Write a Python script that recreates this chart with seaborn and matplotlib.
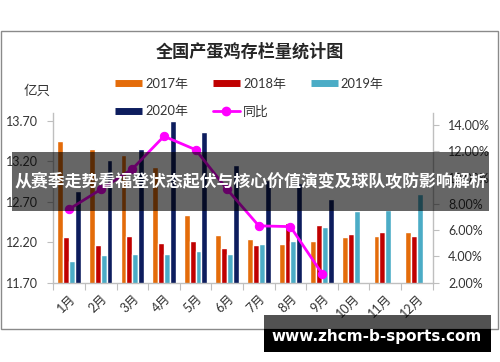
import numpy as np
import pandas as pd
import matplotlib
matplotlib.use("Agg")
import matplotlib.pyplot as plt
import seaborn as sns
from matplotlib.patches import Rectangle
from matplotlib.lines import Line2D

months = ['1月', '2月', '3月', '4月', '5月', '6月', '7月', '8月', '9月', '10月', '11月', '12月']
years = ['2017年', '2018年', '2019年', '2020年']
y2017 = [13.45, 13.35, 13.27, 13.13, 12.53, 12.29, 12.24, 12.18, 12.21, 12.26, 12.27, 12.32]
y2018 = [12.26, 12.17, 12.28, 12.19, 12.21, 12.13, 12.17, 12.44, 12.41, 12.30, 12.33, 12.27]
y2019 = [11.97, 12.04, 12.05, 12.06, 12.09, 12.06, 12.18, 12.22, 12.39, 12.59, 12.60, 12.80]
y2020 = [12.83, 13.21, 13.35, 13.70, 13.56, 13.15, 12.97, 12.93, 12.73, np.nan, np.nan, np.nan]
yoy = [7.60, 9.10, 10.66, 13.15, 12.13, 9.10, 6.33, 6.27, 2.69, np.nan, np.nan, np.nan]
left_ticks = [11.70, 12.20, 12.70, 13.20, 13.70]
right_ticks = [2, 4, 6, 8, 10, 12, 14]

colors = ['#E46C0A', '#C00000', '#4BACC6', '#0D1D5E']
yoy_color = '#FF00FF'

sns.set_theme(style='white')
plt.rcParams['font.family'] = ['Lato', 'Noto Sans CJK SC', 'DejaVu Sans']
plt.rcParams['axes.unicode_minus'] = False

rows = []
for yr, vals in zip(years, [y2017, y2018, y2019, y2020]):
    for m, v in zip(months, vals):
        rows.append({'month': m, 'year': yr, 'value': v})
df = pd.DataFrame(rows)

W, H = 500, 362
fig = plt.figure(figsize=(W / 100, H / 100), dpi=100)
fig.patch.set_facecolor('white')

L, R, T, B = 53.3, 432.7, 113.3, 282.7
ax = fig.add_axes([L / W, 1 - B / H, (R - L) / W, (B - T) / H])

sns.barplot(data=df, x='month', y='value', hue='year', order=months, hue_order=years,
            palette=colors, saturation=1, width=0.74, ax=ax, legend=False)
ax.set_ylim(11.70, 13.79)
ax.set_yticks(left_ticks)
ax.set_yticklabels([f'{v:.2f}' for v in left_ticks])
ax.set_xlim(-0.5, 11.5)
ax.set_xlabel('')
ax.set_ylabel('')

ax2 = ax.twinx()
sns.lineplot(x=np.arange(len(months)), y=yoy, ax=ax2, color=yoy_color, lw=2,
             marker='o', markersize=6, markeredgecolor=yoy_color, markerfacecolor=yoy_color)
ax2.set_ylim(2, 14.9)
ax2.set_yticks(right_ticks)
ax2.set_yticklabels([f'{v:.2f}%' for v in right_ticks])
ax2.set_xlim(-0.5, 11.5)

spine_c = '#BFBFBF'
for a in (ax, ax2):
    a.set_facecolor('none')
    a.grid(False)
    for s in a.spines.values():
        s.set_visible(False)
ax.spines['left'].set_visible(True)
ax.spines['bottom'].set_visible(True)
ax2.spines['right'].set_visible(True)
for s in (ax.spines['left'], ax.spines['bottom'], ax2.spines['right']):
    s.set_color(spine_c)
    s.set_linewidth(1)

lab_c = '#333333'
ax.tick_params(axis='y', which='major', length=4, width=0.8, color=spine_c, direction='out',
               labelsize=9, labelcolor=lab_c, pad=7, left=True)
ax2.tick_params(axis='y', which='major', length=4, width=0.8, color=spine_c, direction='out',
                labelsize=9, labelcolor=lab_c, pad=7, right=True)
ax.set_xticks(np.arange(len(months)))
ax.set_xticklabels(months, rotation=45, ha='right', rotation_mode='anchor')
ax.set_xticks(np.arange(-0.5, 12, 1), minor=True)
ax.tick_params(axis='x', which='major', length=0, labelsize=9, labelcolor=lab_c, pad=7)
ax.tick_params(axis='x', which='minor', length=5, width=0.8, color=spine_c, direction='out', bottom=True)

# chart border
fig.patches.append(Rectangle((1 / W, 1 - 329 / H), 497 / W, (329 - 30.7) / H,
                             transform=fig.transFigure, fill=False, ec='#8A8A8A', lw=1, zorder=5))

fig.text(249.5 / W, 1 - 51.7 / H, '全国产蛋鸡存栏量统计图', ha='center', va='center',
         fontsize=12.3, fontweight='bold', color='#262626', family=['Noto Sans CJK SC', 'DejaVu Sans'])
fig.text(37 / W, 1 - 91 / H, '亿只', ha='center', va='center', fontsize=9.7, color=lab_c,
         family=['Noto Sans CJK SC', 'DejaVu Sans'])

h = [Line2D([0], [0], color=c, lw=5, solid_capstyle='butt') for c in colors]
hy = Line2D([0], [0], color=yoy_color, lw=2, marker='o', markersize=6)
leg = fig.legend(handles=[h[0], h[3], h[1], hy, h[2]],
                 labels=['2017年', '2020年', '2018年', '同比', '2019年'],
                 ncol=3, loc='upper left', bbox_to_anchor=(115 / W, 1 - 78 / H),
                 frameon=False, fontsize=9.3, handlelength=2.1, handletextpad=0.25,
                 columnspacing=1.9, labelspacing=1.2, borderpad=0, borderaxespad=0)
for t in leg.get_texts():
    t.set_color(lab_c)

# overlay banner
fig.patches.append(Rectangle((12 / W, 1 - 211 / H), 477 / W, 59.3 / H, transform=fig.transFigure,
                             color='black', alpha=0.6, lw=0, zorder=10))
fig.text(250.5 / W, 1 - 182 / H, '从赛季走势看福登状态起伏与核心价值演变及球队攻防影响解析',
         ha='center', va='center', fontsize=12.2, fontweight='bold', color='white',
         family=['Noto Sans CJK SC', 'DejaVu Sans'], zorder=11)

# footer
fig.patches.append(Rectangle((264 / W, 1 - 329 / H), 227 / W, 14 / H, transform=fig.transFigure,
                             color='black', alpha=0.68, lw=0, zorder=10))
fig.patches.append(Rectangle((264 / W, 1 - 352.3 / H), 227 / W, 23.3 / H, transform=fig.transFigure,
                             color='black', lw=0, zorder=10))
fig.text(377 / W, 1 - 336.5 / H, 'www.zhcm-b-sports.com', ha='center', va='center',
         fontsize=11, fontweight='bold', color='white', family='DejaVu Sans', zorder=11)

fig.savefig('out.png', dpi=100)
